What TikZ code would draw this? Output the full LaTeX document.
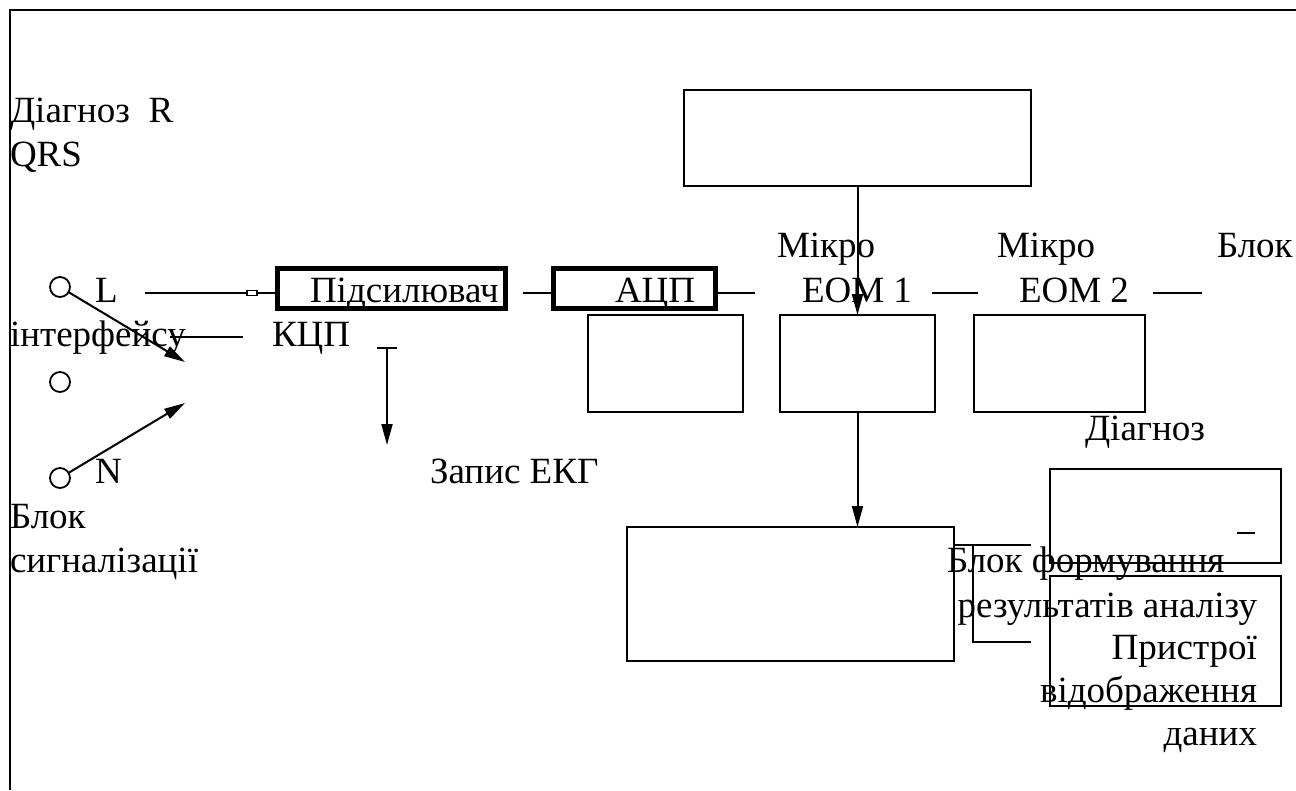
\documentclass[tikz,border=0pt]{standalone}
\usepackage{fontspec}
\setmainfont{Liberation Serif}
\usetikzlibrary{arrows.meta}
\begin{document}
\begin{tikzpicture}[x=1pt,y=-1pt,
  every node/.style={inner sep=0pt,outer sep=0pt,font=\fontsize{37}{44}\selectfont},
  lbl/.style={anchor=base west},
  rlbl/.style={anchor=base east},
  frame/.style={line width=2.4pt},
  box/.style={draw,line width=2.4pt,rectangle},
  thickbox/.style={draw,line width=5pt,rectangle},
  wire/.style={line width=2pt},
  pin/.style={draw,circle,line width=1.8pt,minimum size=20pt},
  arr/.style={wire,-{Triangle[length=21pt,width=11pt]}}]
\useasboundingbox (0,0) rectangle (1296,790);
\draw[frame] (10,790) -- (10,10) -- (1296,10);
% boxes
\node[box,minimum width=347pt,minimum height=96pt] (top) at (857.5,138) {};
\node[box,minimum width=155pt,minimum height=97pt] (bA) at (665.5,363.5) {};
\node[box,minimum width=155pt,minimum height=97pt] (bB) at (857.5,363.5) {};
\node[box,minimum width=171pt,minimum height=97pt] (bC) at (1059.5,363.5) {};
\node[box,minimum width=231pt,minimum height=94pt] (bD) at (1165.5,516) {};
\node[box,minimum width=231pt,minimum height=130pt] (bE) at (1165.5,641) {};
\node[box,minimum width=327pt,minimum height=134pt] (bF) at (790.5,594) {};
\node[thickbox,minimum width=228pt,minimum height=40pt] (amp) at (391,288) {};
\node[thickbox,minimum width=162pt,minimum height=40pt] (adc) at (634,288) {};
% pins
\node[pin] (c1) at (60,287) {};
\node[pin] (c2) at (60,382) {};
\node[pin] (c3) at (60,478) {};
% texts
\node[lbl] (t1) at (10,122) {Діагноз\ \ R};
\node[lbl] (t2) at (10,166) {QRS};
\node[lbl] (m1) at (777,257) {Мікро};
\node[lbl] (m2) at (997,257) {Мікро};
\node[lbl] (bl1) at (1217,257) {Блок};
\node[lbl] (tL) at (95,302) {L};
\node[lbl] (tamp) at (310,302) {Підсилювач};
\node[lbl] (tadc) at (615,302) {АЦП};
\node[lbl] (e1) at (802,302) {ЕОМ 1};
\node[lbl] (e2) at (1019,302) {ЕОМ 2};
\node[lbl] (tif) at (10,346) {інтерфейсу};
\node[lbl] (tk) at (272,346) {КЦП};
\node[lbl] (td) at (1085,440) {Діагноз};
\node[lbl] (tN) at (95,483) {N};
\node[lbl] (tz) at (430,483) {Запис ЕКГ};
\node[lbl] (bl2) at (10,528) {Блок};
\node[lbl] (ts) at (10,572) {сигналізації};
\node[lbl] (tf1) at (947,572) {Блок формування};
\node[rlbl] (tf2) at (1257,617) {результатів аналізу};
\node[rlbl] (tp1) at (1257,659) {Пристрої};
\node[rlbl] (tp2) at (1257,702) {відображення};
\node[rlbl] (tp3) at (1257,745) {даних};
% coordinates
\coordinate (w1a) at (145,293);
\coordinate (w1b) at (247,293);
\coordinate (w1c) at (257,293);
\coordinate (w2a) at (523,293);
\coordinate (w3a) at (715,293);
\coordinate (w3b) at (755,293);
\coordinate (w4a) at (932,293);
\coordinate (w4b) at (978,293);
\coordinate (w5a) at (1153,293);
\coordinate (w5b) at (1202,293);
\coordinate (w6a) at (170,337);
\coordinate (w6b) at (243,337);
\coordinate (sw1) at (185,362);
\coordinate (sw2) at (185,403);
\coordinate (ta) at (377,348);
\coordinate (tb) at (397,348);
\coordinate (tm) at (387,348);
\coordinate (tend) at (387,445);
\coordinate (br1) at (954,545);
\coordinate (br2) at (1031,545);
\coordinate (br3) at (973,545);
\coordinate (br4) at (973,642);
\coordinate (br5) at (1031,642);
\coordinate (ds1) at (1237,533);
\coordinate (ds2) at (1255,533);
% connectors
\draw[wire] (w1a) -- (w1b);
\draw[line width=1.4pt] (247,290.5) rectangle (257,295.5);
\draw[wire] (w1c) -- (w1c -| amp.west);
\draw[wire] (w2a) -- (w2a -| adc.west);
\draw[wire] (w3a -| adc.east) -- (w3b);
\draw[wire] (w4a) -- (w4b);
\draw[wire] (w5a) -- (w5b);
\draw[wire] (w6a) -- (w6b);
\draw[arr] (c1.-31) -- (sw1);
\draw[arr] (c3.31) -- (sw2);
\draw[wire] (ta) -- (tb);
\draw[arr] (tm) -- (tend);
\draw[arr] (top.south) -- (bB.north);
\draw[arr] (bB.south) -- (bB.south |- bF.north);
\draw[wire] (br1) -- (br2);
\draw[wire] (br3) -- (br4) -- (br5);
\draw[wire] (ds1) -- (ds2);
\end{tikzpicture}
\end{document}
